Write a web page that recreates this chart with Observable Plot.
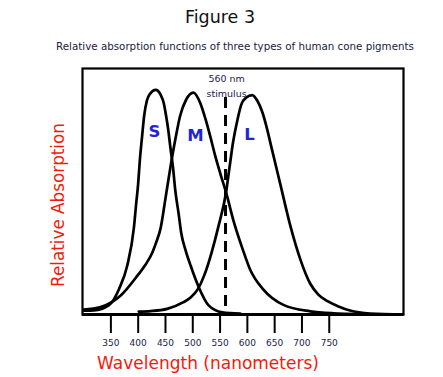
<!DOCTYPE html>
<html><head><meta charset="utf-8">
<script src="https://cdn.jsdelivr.net/npm/d3@7"></script>
<script src="https://cdn.jsdelivr.net/npm/@observablehq/plot@0.6"></script>
<style>
html,body{margin:0;padding:0;background:#fff;}
body{width:443px;height:377px;overflow:hidden;font-family:"DejaVu Sans",sans-serif;}
#head{position:relative;height:56px;}
#title{position:absolute;left:220px;top:9px;transform:translateX(-50%);font-size:17.5px;line-height:17px;color:#111;white-space:nowrap;}
#subtitle{position:absolute;left:235px;top:41px;transform:translateX(-50%);font-size:10.3px;line-height:11px;color:#1a1a3a;white-space:nowrap;}
#chart svg{display:block;}
</style></head>
<body>
<div id="head"><div id="title">Figure 3</div><div id="subtitle">Relative absorption functions of three types of human cone pigments</div></div>
<div id="chart"></div>
<script>
// Wavelength (nm) and relative absorption
const sWave = [300, 319, 346, 365, 380, 392, 396, 400, 403, 407, 411, 416, 422, 432, 441, 447, 451, 455, 459, 464, 468, 474, 479, 487, 496, 511, 529, 554, 587];
const sAbs  = [0.016, 0.017, 0.037, 0.104, 0.199, 0.350, 0.443, 0.533, 0.626, 0.720, 0.809, 0.870, 0.898, 0.913, 0.894, 0.858, 0.809, 0.752, 0.679, 0.593, 0.504, 0.411, 0.329, 0.260, 0.199, 0.111, 0.037, 0.009, 0.004];
const mWave = [300, 331, 368, 399, 413, 426, 433, 441, 450, 459, 468, 477, 488, 501, 514, 523, 532, 541, 551, 562, 574, 591, 605, 629, 666, 715, 757, 807];
const mAbs  = [0.020, 0.030, 0.077, 0.159, 0.201, 0.252, 0.293, 0.350, 0.472, 0.598, 0.711, 0.809, 0.874, 0.902, 0.858, 0.797, 0.724, 0.646, 0.569, 0.488, 0.386, 0.268, 0.183, 0.102, 0.039, 0.013, 0.005, 0.002];
const lWave = [401, 423, 453, 483, 496, 509, 521, 535, 547, 561, 567, 574, 582, 589, 598, 609, 618, 627, 635, 645, 660, 679, 697, 715, 730, 746, 767, 788, 825, 885];
const lAbs  = [0.012, 0.014, 0.023, 0.050, 0.069, 0.102, 0.159, 0.256, 0.358, 0.497, 0.593, 0.703, 0.793, 0.854, 0.882, 0.892, 0.870, 0.825, 0.764, 0.671, 0.533, 0.358, 0.224, 0.126, 0.081, 0.055, 0.033, 0.016, 0.004, 0.000];
const tickValues = [350, 400, 450, 500, 550, 600, 650, 700, 750];
const coneNames = ["S", "M", "L"];
const stimulusWave = 560;
const stimulusLines = ["560 nm", "stimulus"];
const xTitle = "Wavelength (nanometers)";
const yTitle = "Relative Absorption";

const toRows = (w, a) => w.map((x, i) => ({x, y: a[i]}));
const sRows = toRows(sWave, sAbs), mRows = toRows(mWave, mAbs), lRows = toRows(lWave, lAbs);
const curveStyle = {x: "x", y: "y", curve: "monotone-x", stroke: "#000", strokeWidth: 2.7};
const nameRows = [
  {name: coneNames[0], x: 430, y: 0.741},
  {name: coneNames[1], x: 505, y: 0.728},
  {name: coneNames[2], x: 604, y: 0.732}
];

const plot = Plot.plot({
  width: 443, height: 321,
  marginTop: 12, marginBottom: 63, marginLeft: 82, marginRight: 40,
  style: {fontFamily: "DejaVu Sans, sans-serif", background: "#fff"},
  x: {domain: [298, 886]},
  y: {domain: [0, 1], axis: null},
  marks: [
    Plot.frame({stroke: "#000", strokeWidth: 2.2}),
    Plot.ruleY([0], {stroke: "#000", strokeWidth: 3}),
    Plot.line(sRows, curveStyle),
    Plot.line(mRows, curveStyle),
    Plot.line(lRows, curveStyle),
    Plot.ruleX([stimulusWave], {y1: 0.882, y2: 0, stroke: "#000", strokeWidth: 3, strokeDasharray: "11,7"}),
    Plot.text(stimulusLines, {x: () => stimulusWave + 2, y: (d, i) => i === 0 ? 0.958 : 0.897, text: d => d, fill: "#1a1a4a", fontSize: 9.5}),
    Plot.text(nameRows, {x: "x", y: "y", text: "name", fill: "#1f24d8", fontSize: 16.5, fontWeight: "bold"}),
    Plot.axisX(tickValues, {tickSize: 19, tickPadding: 6, fontSize: 9, stroke: "#000", strokeWidth: 2, fill: "#1a1a4a", label: null}),
    Plot.text([xTitle], {frameAnchor: "bottom", text: d => d, textAnchor: "middle", lineAnchor: "middle", dx: -35, dy: 49, fill: "#f41a0a", fontSize: 17}),
    Plot.text([yTitle], {frameAnchor: "left", text: d => d, textAnchor: "middle", lineAnchor: "middle", rotate: -90, dx: -23.5, dy: 13.5, fill: "#f41a0a", fontSize: 16.8})
  ]
});
document.getElementById("chart").appendChild(plot);
</script>
</body></html>
